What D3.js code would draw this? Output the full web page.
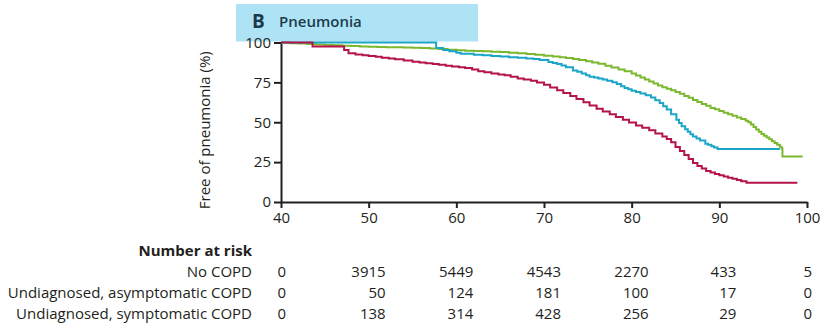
<!DOCTYPE html>
<html>
<head>
<meta charset="utf-8">
<script src="https://cdn.jsdelivr.net/npm/d3@7"></script>
<style>
  html, body { margin: 0; padding: 0; background: #fff; }
  svg { display: block; }
  text { font-family: "Open Sans", "DejaVu Sans", sans-serif; fill: #231f20; }
</style>
</head>
<body>
<svg id="chart" width="825" height="330"></svg>
<script>
// Kaplan–Meier estimates: [age (years), free of pneumonia (%)]
const noCopd = [
  [40, 100], [41, 99.6], [42, 99.3], [43, 99], [44, 98.8], [45, 98.5], [46, 98.3], [47, 98],
  [48, 97.8], [49, 97.5], [50, 97.3], [51, 97.2], [52, 97.1], [53, 97], [54, 96.8], [55, 96.7],
  [56, 96.5], [57, 96.2], [58, 95.9], [59, 95.5], [60, 95.2], [61, 94.9], [62, 94.7], [63, 94.5],
  [64, 94.2], [65, 94], [66, 93.6], [67, 93.2], [68, 92.8], [69, 92.3], [70, 91.7], [71, 91.2],
  [71.8, 90.8], [72.5, 90.3], [73.3, 89.7], [74, 89], [74.8, 88.3], [75.5, 87.5], [76.2, 86.6],
  [77, 85.5], [77.7, 84.4], [78.5, 83], [79.2, 81.9], [80, 80.5], [80.5, 79.3], [81, 78],
  [81.5, 76.8], [82, 75.5], [82.5, 74.3], [83, 73], [83.5, 72], [84, 71], [84.5, 70], [85, 69],
  [85.5, 67.8], [86, 66.5], [86.5, 65.3], [87, 64], [87.5, 62.7], [88, 61.5], [88.5, 60.3],
  [89, 59], [89.5, 58.1], [90, 57], [90.5, 56], [91, 55], [91.5, 54.1], [92, 53], [92.5, 52.1],
  [93, 51], [93.3, 50], [93.6, 48.6], [93.9, 47.1], [94.2, 45.4], [94.5, 44], [94.8, 42.7],
  [95.1, 41.6], [95.4, 40.4], [95.7, 39.3], [96, 38.1], [96.3, 37], [96.6, 35.9], [96.9, 34.6],
  [97.1, 33.5], [97.2, 28.5], [99.5, 28.5]
];
const asymptomatic = [
  [40, 100], [57.7, 96.5], [58.5, 95.3], [59.2, 94.5], [60, 93.6], [60.5, 93], [62, 92.3],
  [63, 92], [64, 91.6], [65, 91.2], [66, 90.8], [67, 90.4], [68, 90], [68.8, 89.6], [69.5, 89],
  [70.5, 87.8], [71, 87.2], [71.5, 86.5], [72, 85.6], [72.5, 84.5], [73.3, 82.5], [73.8, 81.6],
  [74.3, 80.5], [74.8, 79.4], [75.2, 78.6], [75.7, 78.1], [76.2, 77.5], [76.7, 76.8], [77.2, 76],
  [77.8, 75.1], [78.3, 74], [78.8, 72.6], [79.2, 71.5], [79.6, 70.7], [80, 69.8], [80.5, 68.9],
  [81, 68], [81.6, 66.9], [82.2, 65.5], [82.7, 63.8], [83.2, 62], [83.6, 60], [84, 58],
  [84.5, 55], [85.1, 51.5], [85.4, 49.5], [85.7, 47.5], [86.1, 45.6], [86.4, 44], [86.7, 42.5],
  [87, 41], [87.4, 39.8], [87.8, 38.5], [88.4, 36.5], [88.7, 35.9], [89.1, 35], [89.4, 34.1],
  [89.8, 33.2], [96.9, 33.2]
];
const symptomatic = [
  [40, 100], [43.6, 97.5], [47.2, 95.3], [47.7, 93.3], [48.5, 92.5], [49.3, 92], [50, 91.5],
  [50.8, 91], [51.5, 90.5], [52.3, 90], [53, 89.5], [54, 88.7], [55, 88], [55.8, 87.5],
  [56.5, 87], [57.3, 86.5], [58, 86], [58.8, 85.5], [59.5, 85], [60.3, 84.5], [61, 84],
  [61.8, 83], [62.5, 82], [63.2, 81.3], [64, 80.5], [64.8, 80], [65.5, 79.5], [66.2, 78.5],
  [67, 77.5], [67.7, 76.8], [68.5, 76], [69.2, 75], [70, 73.5], [70.7, 71.8], [71.5, 70],
  [72.2, 68.3], [73, 66.5], [73.7, 64.5], [74.5, 62.5], [75.2, 60.5], [76, 58.5], [76.7, 56.8],
  [77.5, 55], [78.2, 53.3], [79, 51.5], [79.7, 49.8], [80.5, 48], [81.2, 46.5], [82, 45],
  [82.7, 43], [83.5, 41], [84, 39.5], [84.5, 37.5], [85, 34.5], [85.5, 32], [86, 29.5],
  [86.5, 27], [87, 24.5], [87.5, 22.5], [88, 21], [88.5, 19.5], [89, 18.5], [89.5, 17.5],
  [90, 16.7], [90.5, 16], [91, 15.2], [91.5, 14.5], [92, 13.8], [92.5, 13], [93.1, 12],
  [98.9, 12]
];

const xTicks = [40, 50, 60, 70, 80, 90, 100];
const yTicks = [0, 25, 50, 75, 100];

const groupNames = ["No COPD", "Undiagnosed, asymptomatic COPD", "Undiagnosed, symptomatic COPD"];
const atRiskNoCopd = [0, 3915, 5449, 4543, 2270, 433, 5];
const atRiskAsymptomatic = [0, 50, 124, 181, 100, 17, 0];
const atRiskSymptomatic = [0, 138, 314, 428, 256, 29, 0];

const svg = d3.select("#chart");

const x = d3.scaleLinear().domain([40, 100]).range([281, 807]);
const y = d3.scaleLinear().domain([0, 100]).range([202, 42.5]);

// Panel banner
svg.append("rect")
  .attr("x", 236).attr("y", 4).attr("width", 242).attr("height", 37.5)
  .attr("fill", "#aee3f5");
svg.append("text")
  .attr("x", 252).attr("y", 28)
  .style("font-size", "19px").style("font-weight", "700").style("fill", "#1b3b4c")
  .text("B");
svg.append("text")
  .attr("x", 279).attr("y", 27)
  .style("font-size", "15px").style("font-weight", "600").style("fill", "#1b3b4c")
  .text("Pneumonia");

// Axes
const xAxis = d3.axisBottom(x).tickValues(xTicks).tickSize(6).tickSizeOuter(0).tickPadding(4);
const yAxis = d3.axisLeft(y).tickValues(yTicks).tickSize(7).tickSizeOuter(0).tickPadding(3);

const gx = svg.append("g").attr("transform", `translate(0,${y(0)})`).call(xAxis);
const gy = svg.append("g").attr("transform", `translate(${x(40)},0)`).call(yAxis);

[gx, gy].forEach(g => {
  g.select(".domain").attr("stroke", "#231f20").attr("stroke-width", 2);
  g.selectAll(".tick line").attr("stroke", "#231f20").attr("stroke-width", 2);
  g.selectAll(".tick text")
    .style("font-size", "15px").style("font-family", "'Open Sans', sans-serif").attr("fill", "#231f20");
});

svg.append("text")
  .attr("transform", `translate(210,${(y(0) + y(100)) / 2 + 8}) rotate(-90)`)
  .attr("text-anchor", "middle")
  .style("font-size", "15px")
  .text("Free of pneumonia (%)");

// Survival curves
const line = d3.line()
  .x(d => x(d[0]))
  .y(d => y(d[1]))
  .curve(d3.curveStepAfter);

const series = [
  { data: noCopd, color: "#7cb82f" },
  { data: asymptomatic, color: "#1ba6c8" },
  { data: symptomatic, color: "#b5134e" }
];

svg.append("g").selectAll("path")
  .data(series)
  .join("path")
  .attr("d", d => line(d.data))
  .attr("fill", "none")
  .attr("stroke", d => d.color)
  .attr("stroke-width", 2);

// Number at risk table
const tableLabelX = 252;
svg.append("text")
  .attr("x", tableLabelX).attr("y", 256)
  .attr("text-anchor", "end")
  .style("font-size", "15px").style("font-weight", "700")
  .text("Number at risk");

const rows = [atRiskNoCopd, atRiskAsymptomatic, atRiskSymptomatic];
const rowY = [277, 298, 319];

rows.forEach((vals, i) => {
  svg.append("text")
    .attr("x", tableLabelX).attr("y", rowY[i])
    .attr("text-anchor", "end")
    .style("font-size", "15px")
    .text(groupNames[i]);
  svg.append("g").selectAll("text")
    .data(vals)
    .join("text")
    .attr("x", (d, j) => {
      const t = xTicks[j];
      if (j === 0 || j === xTicks.length - 1) return x(t) + 5;
      return x(t) + 17;
    })
    .attr("y", rowY[i])
    .attr("text-anchor", "end")
    .style("font-size", "15px")
    .text(d => d);
});
</script>
</body>
</html>
